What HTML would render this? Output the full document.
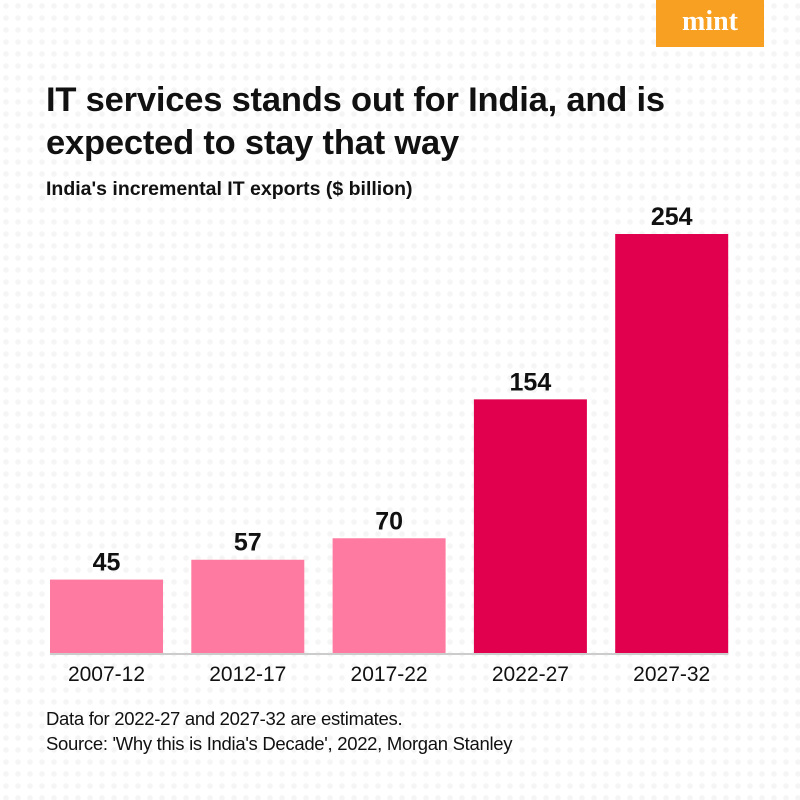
<!DOCTYPE html>
<html><head><meta charset="utf-8"><style>
body{margin:0;width:800px;height:800px;background:#fff;font-family:"Liberation Sans",sans-serif;position:relative;overflow:hidden}
.bg{position:absolute;inset:0;background-image:radial-gradient(circle,#eeeeee 2.5px,transparent 3px);background-size:12px 12px;opacity:.6}
#logo{position:absolute;left:656px;top:0;width:108px;height:47px;background:#f7a021;color:#fff;font-family:"Liberation Serif",serif;font-weight:bold;font-size:28px;text-align:center;line-height:44px}
h1{position:absolute;left:46px;top:79px;margin:0;font-size:34.5px;line-height:43px;color:#111;font-weight:bold;letter-spacing:-0.2px}
#sub{position:absolute;left:46px;top:178px;font-size:19.5px;font-weight:bold;color:#111}
#foot{position:absolute;left:46px;top:706px;font-size:18.5px;line-height:25px;color:#111;letter-spacing:-0.3px}
svg{position:absolute;left:0;top:0}
</style></head><body>
<div class="bg"></div>
<div id="logo">mint</div>
<h1>IT services stands out for India, and is<br>expected to stay that way</h1>
<div id="sub">India's incremental IT exports ($ billion)</div>
<svg id="chart" width="800" height="800"></svg>
<div id="foot">Data for 2022-27 and 2027-32 are estimates.<br>Source: 'Why this is India's Decade', 2022, Morgan Stanley</div>
<script>
const categories=["2007-12","2012-17","2017-22","2022-27","2027-32"];
const values=[45,57,70,154,254];
const estimates=[false,false,false,true,true];
const ns="http://www.w3.org/2000/svg";
const svg=document.getElementById('chart');
const base=654,scale=420/254,x0=50,step=141.3,bw=113;
function y(v){return base-v*scale;}
function x(i){return x0+i*step;}
categories.forEach((c,i)=>{
  const r=document.createElementNS(ns,'rect');
  r.setAttribute('x',x(i));r.setAttribute('y',y(values[i]));
  r.setAttribute('width',bw);r.setAttribute('height',base-y(values[i]));
  r.setAttribute('fill',estimates[i]?'#e0004d':'#ff7aa0');
  
  
  svg.appendChild(r);
  const t=document.createElementNS(ns,'text');
  t.setAttribute('x',x(i)+bw/2);t.setAttribute('y',y(values[i])-9);
  t.setAttribute('text-anchor','middle');t.setAttribute('font-size','25');t.setAttribute('font-weight','bold');t.setAttribute('fill','#111');
  t.setAttribute('font-family','Liberation Sans, sans-serif');
  t.textContent=values[i];
  
  
  svg.appendChild(t);
  const l=document.createElementNS(ns,'text');
  l.setAttribute('x',x(i)+bw/2);l.setAttribute('y',base+27);
  l.setAttribute('text-anchor','middle');l.setAttribute('font-size','21');l.setAttribute('fill','#111');
  l.setAttribute('font-family','Liberation Sans, sans-serif');
  l.textContent=c;
  
  
  svg.appendChild(l);
});
const ln=document.createElementNS(ns,'line');
ln.setAttribute('x1',x0);ln.setAttribute('x2',x(4)+bw);ln.setAttribute('y1',base);ln.setAttribute('y2',base);
ln.setAttribute('stroke','#ccc');ln.setAttribute('stroke-width','2');


svg.appendChild(ln);
</script>
</body></html>
